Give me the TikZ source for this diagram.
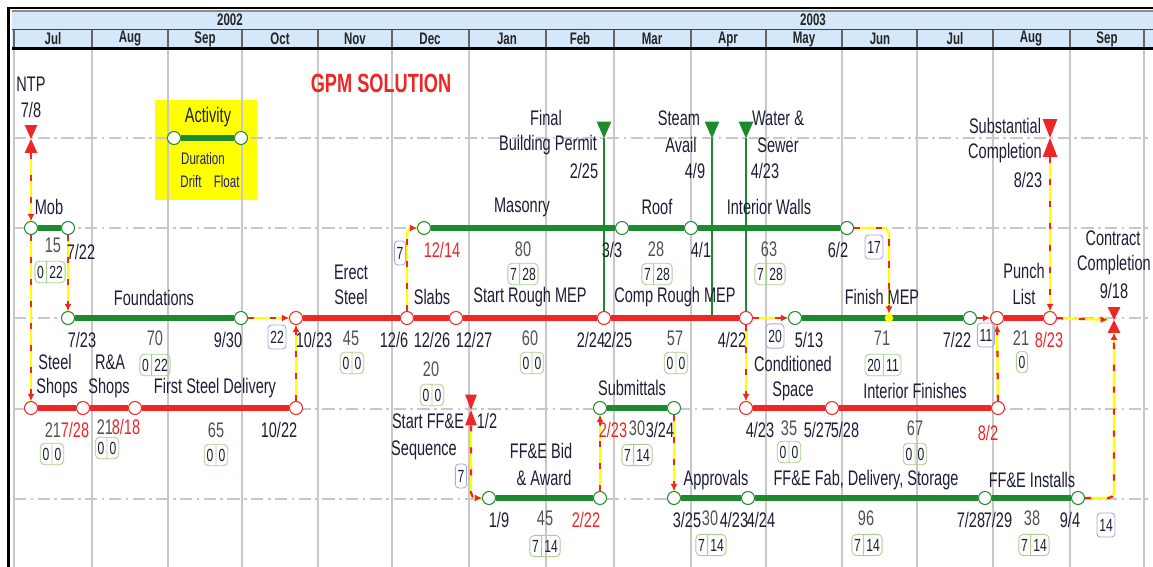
\documentclass[tikz,border=0pt]{standalone}
\usepackage{fontspec}
\setmainfont{Liberation Sans}[FakeStretch=0.69]
\usetikzlibrary{shapes.multipart,arrows.meta}

\definecolor{gpmgreen}{HTML}{1E8A2E}
\definecolor{gpmred}{HTML}{EE2626}
\definecolor{gpmyellow}{HTML}{FFFF00}
\definecolor{hdrblue}{HTML}{D5E8FA}
\definecolor{gridgray}{HTML}{C8C8C8}
\definecolor{ink}{HTML}{1E1E38}
\definecolor{legendink}{HTML}{20206E}
\definecolor{floatgreen}{HTML}{A9D08E}
\definecolor{lagblue}{HTML}{A6A9E2}

\begin{document}
\begin{tikzpicture}[x=0.02cm, y=-0.02cm,
  ev/.style={circle, draw=#1, fill=white, line width=0.6pt, minimum size=0.26cm, inner sep=0pt},
  gev/.style={ev=gpmgreen},
  rev/.style={ev=gpmred},
  ms/.style={inner sep=0pt, minimum width=0.24cm},
  gact/.style={gpmgreen, line width=3.2pt},
  ract/.style={gpmred, line width=3.2pt},
  link/.style={gpmyellow, line width=1.3pt, rounded corners=3pt,
    postaction={draw=gpmred, dash pattern=on 3.5pt off 9pt, -{Latex[length=4pt, width=4pt]}}},
  lbl/.style={text=ink, inner sep=0pt, font=\fontsize{12}{13}\selectfont},
  dur/.style={lbl, text=black!68},
  late/.style={lbl, text=gpmred},
  fl/.style={rectangle split, rectangle split horizontal, rectangle split parts=2,
    draw=floatgreen, rounded corners=2.5pt, line width=0.5pt, inner xsep=1.3pt, inner ysep=2.6pt,
    text=ink, font=\fontsize{10}{11}\selectfont},
  flone/.style={draw=floatgreen, rounded corners=2.5pt, line width=0.5pt, inner xsep=1.3pt,
    inner ysep=2.6pt, text=ink, font=\fontsize{10}{11}\selectfont},
  lag/.style={draw=lagblue, rounded corners=2pt, line width=0.5pt, inner xsep=1.3pt, minimum height=0.48cm,
    text=ink, font=\fontsize{10}{11}\selectfont},
  mo/.style={text=black!85, inner sep=0pt, font=\bfseries\fontsize{9.5}{10}\selectfont},
  leg/.style={text=legendink, inner sep=0pt, font=\fontsize{9.5}{10}\selectfont}]

  \fill[white] (0,0) rectangle (1153,567);
  \useasboundingbox (0,0) rectangle (1153,567);

  % legend box (grid shows through it)
  \fill[gpmyellow] (155,100) rectangle (257,200);

  % time scale
  \fill[hdrblue] (12,11) rectangle (1153,48);
  \foreach \x in {14,92,168,242,318,392,469,546,614,691,766,842,917,993,1070,1144} {
    \draw[gridgray, line width=0.6pt] (\x,50) -- (\x,567);
    \draw[black!60, line width=0.6pt] (\x,30) -- (\x,48);
  }
  \foreach \y in {138,228,318,409,499}
    \draw[gridgray, line width=0.6pt, dash pattern=on 7pt off 2.5pt on 1.5pt off 2.5pt] (14,\y) -- (1153,\y);
  \draw[line width=1.4pt] (7,8) -- (1153,8);
  \draw[black!45, line width=0.8pt] (12,11) -- (1153,11);
  \draw[black!75, line width=0.8pt] (12,29.5) -- (1153,29.5);
  \draw[line width=1.6pt] (12,48.5) -- (1153,48.5);
  \draw[line width=2pt] (8.5,7) -- (8.5,567);
  \node[mo] (y02) at (230,20) {2002};
  \node[mo] (y03) at (813,20) {2003};
  \foreach \x/\m [count=\i] in {53/Jul,130/Aug,205/Sep,280/Oct,355/Nov,430/Dec,507/Jan,
      580/Feb,652/Mar,728/Apr,804/May,880/Jun,955/Jul,1031/Aug,1107/Sep}
    \node[mo] (m\i) at (\x,39) {\m};

  \node[text=gpmred, inner sep=0pt, font=\bfseries\fontsize{15}{16}\selectfont] (gpm) at (381,83) {GPM SOLUTION};

  % legend
  \node[gev] (lg-s) at (174,138) {};
  \node[gev] (lg-e) at (241,138) {};
  \draw[gact] (lg-s) -- (lg-e);
  \node[lbl] (lg-a) at (208,117) {Activity};
  \node[leg] (lg-d) at (203,159) {Duration};
  \node[leg] (lg-f) at (210,182) {Drift\hspace{7pt}Float};

  % milestones
  \node[ms, minimum height=0.54cm] (ntp) at (31,139) {};
  \node[ms, minimum height=0.74cm, minimum width=0.28cm] (sub) at (1050,138) {};
  \node[ms, minimum height=0.5cm] (cc) at (1114,320) {};
  \node[ms, minimum height=0.6cm, minimum width=0.22cm] (ffs) at (471,410) {};
  \node[ms, minimum width=0.28cm, minimum height=0.32cm] (fbp) at (604,130) {};
  \node[ms, minimum width=0.28cm, minimum height=0.32cm] (stm) at (712,130) {};
  \node[ms, minimum width=0.28cm, minimum height=0.32cm] (ws) at (746,130) {};
  \foreach \m in {ntp,sub,cc,ffs}
    \fill[gpmred] (\m.north west) -- (\m.north east) -- (\m.south west) -- (\m.south east) -- cycle;
  \foreach \m in {fbp,stm,ws}
    \fill[gpmgreen] (\m.north west) -- (\m.north east) -- (\m.south) -- cycle;

  % events
  \node[gev] (mob-s) at (31,228) {};
  \node[gev] (mob-e) at (68,228) {};
  \node[gev] (mas-s) at (424,228) {};
  \node[gev] (roof-s) at (622,228) {};
  \node[gev] (iw-s) at (691,228) {};
  \node[gev] (iw-e) at (847,228) {};
  \node[gev] (fnd-s) at (68,318) {};
  \node[gev] (fnd-e) at (241,318) {};
  \node[rev] (es-s) at (296,318) {};
  \node[rev] (es-e) at (407,318) {};
  \node[rev] (slb-e) at (456,318) {};
  \node[rev] (srm-e) at (604,318) {};
  \node[rev] (crm-e) at (746,318) {};
  \node[gev] (fm-s) at (795,318) {};
  \node[gev] (fm-e) at (970,318) {};
  \node[rev] (pl-s) at (997,318) {};
  \node[rev] (pl-e) at (1050,318) {};
  \node[rev] (ss-s) at (31,408) {};
  \node[rev] (ss-e) at (83,408) {};
  \node[rev] (ra-e) at (135,408) {};
  \node[rev] (fsd-e) at (296,408) {};
  \node[gev] (sub-s) at (600,408) {};
  \node[gev] (sub-e) at (674,408) {};
  \node[rev] (cs-s) at (746,408) {};
  \node[rev] (cs-e) at (832,408) {};
  \node[rev] (if-e) at (998,408) {};
  \node[gev] (fb-s) at (489,498) {};
  \node[gev] (fb-e) at (600,498) {};
  \node[gev] (app-s) at (674,498) {};
  \node[gev] (app-e) at (748,498) {};
  \node[gev] (fab-e) at (985,498) {};
  \node[gev] (ffi-e) at (1078,498) {};
  \coordinate (stm-f) at (712,316);

  % activities
  \foreach \a/\b in {mob-s/mob-e,mas-s/roof-s,roof-s/iw-s,iw-s/iw-e,fnd-s/fnd-e,fm-s/fm-e,
      sub-s/sub-e,fb-s/fb-e,app-s/app-e,app-e/fab-e,fab-e/ffi-e}
    \draw[gact] (\a) -- (\b);
  \foreach \a/\b in {es-s/es-e,es-e/slb-e,slb-e/srm-e,srm-e/crm-e,pl-s/pl-e,ss-s/ss-e,
      ss-e/ra-e,ra-e/fsd-e,cs-s/cs-e,cs-e/if-e}
    \draw[ract] (\a) -- (\b);
  \node[circle, fill=gpmyellow, minimum size=0.17cm, inner sep=0pt] (fm-d) at (889,318) {};

  % milestone lines
  \draw[gpmgreen, line width=0.7pt] (fbp.south) -- (srm-e.north);
  \draw[gpmgreen, line width=0.7pt] (stm.south) -- (stm-f);
  \draw[gpmgreen, line width=0.7pt] (ws.south) -- (crm-e.north);

  % links
  \draw[link] (ntp) -- (mob-s);
  \draw[link] (mob-s) -- (ss-s);
  \draw[link] (mob-e) -- (fnd-s);
  \draw[link] (fnd-e) -- (es-s);
  \draw[link] (fsd-e) -- (es-s);
  \draw[link] (es-e) |- (mas-s);
  \draw[link] (crm-e) -- (fm-s);
  \draw[link] (crm-e) -- (cs-s);
  \draw[link] (iw-e) -| (fm-d);
  \draw[link] (fm-e) -- (pl-s);
  \draw[link] (if-e) -- (pl-s);
  \draw[link] (sub) -- (pl-e);
  \draw[link] (pl-e) -- (cc);
  \draw[link] (ffi-e) -| (cc);
  \draw[link] (ffs) |- (fb-s);
  \draw[link] (fb-e) -- (sub-s);
  \draw[link] (sub-e) -- (app-s);

  % milestone texts
  \node[lbl] (t-ntp) at (31,84) {NTP};
  \node[lbl] (d-ntp) at (31,110) {7/8};
  \node[lbl] (t-fbp1) at (546,118) {Final};
  \node[lbl] (t-fbp2) at (548,145) {Building Permit};
  \node[lbl] (d-fbp) at (584,171) {2/25};
  \node[lbl] (t-stm1) at (679,118) {Steam};
  \node[lbl] (t-stm2) at (681,145) {Avail};
  \node[lbl] (d-stm) at (695,171) {4/9};
  \node[lbl] (t-ws1) at (778,118) {Water \&};
  \node[lbl] (t-ws2) at (778,145) {Sewer};
  \node[lbl] (d-ws) at (765,171) {4/23};
  \node[lbl] (t-sub1) at (1005,126) {Substantial};
  \node[lbl] (t-sub2) at (1005,153) {Completion};
  \node[lbl] (d-sub) at (1028,180) {8/23};
  \node[lbl] (t-cc1) at (1113,238) {Contract};
  \node[lbl] (t-cc2) at (1114,265) {Completion};
  \node[lbl] (d-cc) at (1114,291) {9/18};
  \node[lbl] (t-ffs1) at (428,421) {Start FF\&E};
  \node[lbl] (t-ffs2) at (424,450) {Sequence};
  \node[lbl] (d-ffs) at (487,421) {1/2};

  % row 228
  \node[lbl] (t-mob) at (49,207) {Mob};
  \node[dur] (n-mob) at (53,245) {15};
  \node[lbl] (d-mob) at (81,252) {7/22};
  \node[fl] (f-mob) at (50,272) {0\nodepart{two}22};
  \node[lbl] (t-mas) at (522,207) {Masonry};
  \node[late] (d-mas) at (442,250) {12/14};
  \node[dur] (n-mas) at (523,249) {80};
  \node[fl] (f-mas) at (523,274) {7\nodepart{two}28};
  \node[lag] (g-mas) at (400,253) {7};
  \node[lbl] (t-roof) at (657,207) {Roof};
  \node[lbl] (d-roof) at (612,250) {3/3};
  \node[dur] (n-roof) at (656,249) {28};
  \node[fl] (f-roof) at (657,274) {7\nodepart{two}28};
  \node[lbl] (d-iw) at (701,250) {4/1};
  \node[lbl] (t-iw) at (769,207) {Interior Walls};
  \node[dur] (n-iw) at (769,249) {63};
  \node[fl] (f-iw) at (770,274) {7\nodepart{two}28};
  \node[lbl] (d-iwe) at (838,250) {6/2};
  \node[lag] (g-fm) at (874,247) {17};

  % row 318
  \node[lbl] (t-fnd) at (154,298) {Foundations};
  \node[lbl] (d-fnd) at (82,340) {7/23};
  \node[dur] (n-fnd) at (155,338) {70};
  \node[fl] (f-fnd) at (155,365) {0\nodepart{two}22};
  \node[lbl] (d-fnde) at (228,340) {9/30};
  \node[lag] (g-es) at (277,337) {22};
  \node[lbl] (t-es1) at (351,272) {Erect};
  \node[lbl] (t-es2) at (351,297) {Steel};
  \node[lbl] (d-es) at (314,340) {10/23};
  \node[dur] (n-es) at (351,338) {45};
  \node[fl] (f-es) at (352,363) {0\nodepart{two}0};
  \node[lbl] (d-ese) at (394,340) {12/6};
  \node[lbl] (t-slb) at (432,297) {Slabs};
  \node[lbl] (d-slb) at (432,340) {12/26};
  \node[dur] (n-slb) at (431,369) {20};
  \node[fl] (f-slb) at (432,395) {0\nodepart{two}0};
  \node[lbl] (t-srm) at (530,297) {Start Rough MEP};
  \node[lbl] (d-srm) at (474,340) {12/27};
  \node[dur] (n-srm) at (530,338) {60};
  \node[fl] (f-srm) at (532,363) {0\nodepart{two}0};
  \node[lbl] (d-srme) at (591,340) {2/24};
  \node[lbl] (t-crm) at (675,297) {Comp Rough MEP};
  \node[lbl] (d-crm) at (618,340) {2/25};
  \node[dur] (n-crm) at (675,338) {57};
  \node[fl] (f-crm) at (676,363) {0\nodepart{two}0};
  \node[lbl] (d-crme) at (732,340) {4/22};
  \node[lag] (g-fms) at (775,336) {20};
  \node[lbl] (t-fm) at (882,297) {Finish MEP};
  \node[lbl] (d-fm) at (809,340) {5/13};
  \node[dur] (n-fm) at (882,338) {71};
  \node[fl] (f-fm) at (883,365) {20\nodepart{two}11};
  \node[lbl] (d-fme) at (957,340) {7/22};
  \node[lag] (g-pl) at (986,335) {11};
  \node[lbl] (t-pl1) at (1024,271) {Punch};
  \node[lbl] (t-pl2) at (1024,297) {List};
  \node[dur] (n-pl) at (1021,338) {21};
  \node[late] (d-ple) at (1049,340) {8/23};
  \node[flone] (f-pl) at (1022,362) {0};

  % row 408
  \node[lbl] (t-ss1) at (55,362) {Steel};
  \node[lbl] (t-ss2) at (57,388) {Shops};
  \node[dur] (n-ss) at (53,430) {21};
  \node[late] (d-ss) at (75,430) {7/28};
  \node[fl] (f-ss) at (52,454) {0\nodepart{two}0};
  \node[lbl] (t-ra1) at (110,362) {R\&A};
  \node[lbl] (t-ra2) at (109,388) {Shops};
  \node[dur] (n-ra) at (105,427) {21};
  \node[late] (d-ra) at (126,427) {8/18};
  \node[fl] (f-ra) at (107,448) {0\nodepart{two}0};
  \node[lbl] (t-fsd) at (215,388) {First Steel Delivery};
  \node[dur] (n-fsd) at (216,430) {65};
  \node[fl] (f-fsd) at (216,455) {0\nodepart{two}0};
  \node[lbl] (d-fsd) at (279,430) {10/22};
  \node[lag] (g-fb) at (461,476) {7};
  \node[lbl] (t-sub) at (632,388) {Submittals};
  \node[late] (d-subs) at (613,430) {2/23};
  \node[dur] (n-sub) at (637,428) {30};
  \node[lbl] (d-sube) at (660,430) {3/24};
  \node[fl] (f-sub) at (637,455) {7\nodepart{two}14};
  \node[lbl] (t-cs1) at (793,364) {Conditioned};
  \node[lbl] (t-cs2) at (793,391) {Space};
  \node[lbl] (d-cs) at (760,430) {4/23};
  \node[dur] (n-cs) at (789,428) {35};
  \node[fl] (f-cs) at (789,452) {0\nodepart{two}0};
  \node[lbl] (d-cse) at (818,430) {5/27};
  \node[lbl] (d-if) at (845,430) {5/28};
  \node[lbl] (t-if) at (915,391) {Interior Finishes};
  \node[dur] (n-if) at (915,428) {67};
  \node[fl] (f-if) at (915,454) {0\nodepart{two}0};
  \node[late] (d-ife) at (988,433) {8/2};

  % row 498
  \node[lbl] (t-fb1) at (541,451) {FF\&E Bid};
  \node[lbl] (t-fb2) at (544,478) {\& Award};
  \node[lbl] (d-fb) at (499,520) {1/9};
  \node[dur] (n-fb) at (545,518) {45};
  \node[fl] (f-fb) at (545,546) {7\nodepart{two}14};
  \node[late] (d-fbe) at (586,520) {2/22};
  \node[lbl] (t-app) at (716,480) {Approvals};
  \node[lbl] (d-app) at (687,520) {3/25};
  \node[dur] (n-app) at (710,518) {30};
  \node[lbl] (d-appe) at (734,520) {4/23};
  \node[fl] (f-app) at (711,545) {7\nodepart{two}14};
  \node[lbl] (t-fab) at (866,480) {FF\&E Fab, Delivery, Storage};
  \node[lbl] (d-fab) at (761,520) {4/24};
  \node[dur] (n-fab) at (866,518) {96};
  \node[fl] (f-fab) at (867,545) {7\nodepart{two}14};
  \node[lbl] (d-fabe) at (971,520) {7/28};
  \node[lbl] (t-ffi) at (1032,480) {FF\&E Installs};
  \node[lbl] (d-ffi) at (998,520) {7/29};
  \node[dur] (n-ffi) at (1032,518) {38};
  \node[fl] (f-ffi) at (1034,545) {7\nodepart{two}14};
  \node[lbl] (d-ffie) at (1070,520) {9/4};
  \node[lag] (g-cc) at (1106,525) {14};
\end{tikzpicture}
\end{document}
